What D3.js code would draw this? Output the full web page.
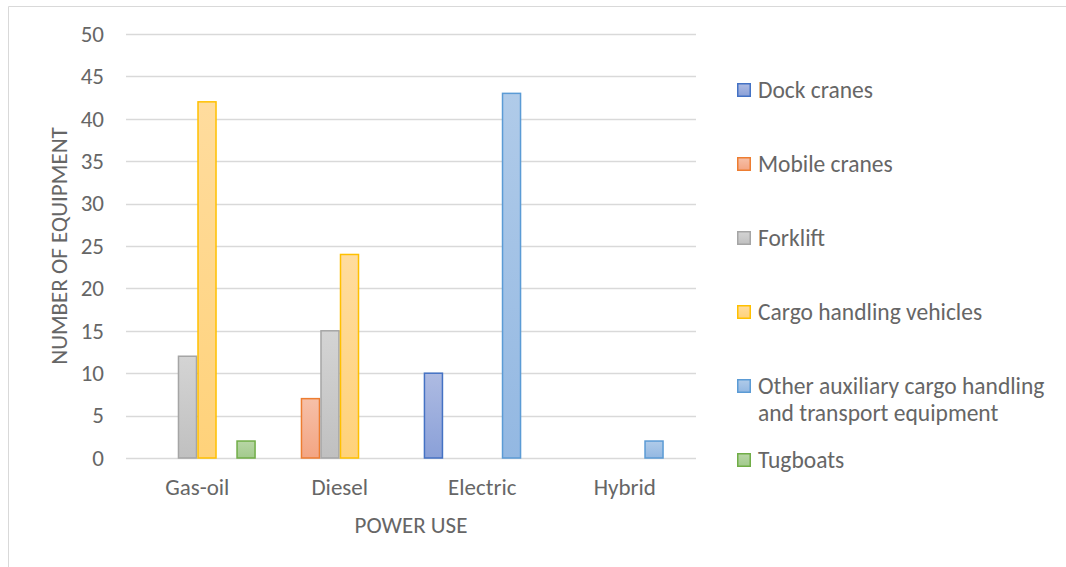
<!DOCTYPE html>
<html>
<head>
<meta charset="utf-8">
<script src="https://cdn.jsdelivr.net/npm/d3@7/dist/d3.min.js"></script>
<style>
  html, body { margin: 0; padding: 0; background: #fff; }
  svg { display: block; }
  text { font-family: Carlito, Calibri, Lato, "Open Sans", sans-serif; fill: #666666; }
</style>
</head>
<body>
<svg id="chart" width="1066" height="567"></svg>
<script>
// Power use categories and equipment series
const categories = ["Gas-oil", "Diesel", "Electric", "Hybrid"];
const seriesNames = [
  "Dock cranes",
  "Mobile cranes",
  "Forklift",
  "Cargo handling vehicles",
  "Other auxiliary cargo handling and transport equipment",
  "Tugboats"
];
// values per series, one per category (Gas-oil, Diesel, Electric, Hybrid)
const dockCranes    = [0, 0, 10, 0];
const mobileCranes  = [0, 7, 0, 0];
const forklift      = [12, 15, 0, 0];
const cargoVehicles = [42, 24, 0, 0];
const otherAux      = [0, 0, 43, 2];
const tugboats      = [2, 0, 0, 0];
const seriesValues = [dockCranes, mobileCranes, forklift, cargoVehicles, otherAux, tugboats];
const yTicks = [0, 5, 10, 15, 20, 25, 30, 35, 40, 45, 50];

// colours: stroke, gradient top, gradient bottom
const strokes = ["#4472c4", "#ed7d31", "#a5a5a5", "#ffc000", "#5b9bd5", "#70ad47"];
const fillTop = ["#aebbe2", "#f6c0a8", "#d4d4d4", "#ffdc9e", "#b0cbe9", "#b8d6a6"];
const fillBot = ["#8aa0d8", "#f3a583", "#c0c0c0", "#ffd27a", "#93b8e2", "#a2ca8c"];

const svg = d3.select("#chart");
const defs = svg.append("defs");
fillTop.forEach((c, i) => {
  const g = defs.append("linearGradient").attr("id", "grad" + i)
    .attr("x1", 0).attr("y1", 0).attr("x2", 0).attr("y2", 1);
  g.append("stop").attr("offset", "0%").attr("stop-color", c);
  g.append("stop").attr("offset", "100%").attr("stop-color", fillBot[i]);
});

// chart frame
svg.append("path")
  .attr("d", "M8.5,567 V6.5 H1066")
  .attr("fill", "none").attr("stroke", "#d9d9d9").attr("stroke-width", 1);

const plot = { left: 126, right: 696, top: 34, bottom: 458 };

const x = d3.scaleBand().domain(categories).range([plot.left, plot.right]).padding(0);
// bars within a category: 6 slots with outer gaps
const xs = d3.scaleBand().domain(d3.range(seriesNames.length))
  .range([0, x.bandwidth()]).paddingInner(0).paddingOuter(0.65);
const y = d3.scaleLinear().domain([0, 50]).range([plot.bottom, plot.top]);

const FS = 23;

// gridlines
svg.append("g").selectAll("line").data(yTicks).join("line")
  .attr("x1", plot.left).attr("x2", plot.right)
  .attr("y1", d => Math.round(y(d)) + 0.5).attr("y2", d => Math.round(y(d)) + 0.5)
  .attr("stroke", "#d9d9d9").attr("stroke-width", 1.3);

// y tick labels
const yAxis = d3.axisLeft(y).tickValues(yTicks).tickSize(0).tickPadding(0);
const gy = svg.append("g").attr("transform", `translate(${plot.left - 22},0)`).call(yAxis);
gy.select(".domain").remove();
gy.attr("font-family", null).attr("font-size", null);
gy.selectAll("text").attr("font-size", FS).attr("fill", "#666666");

// x tick labels
const xAxis = d3.axisBottom(x).tickSize(0).tickPadding(0);
const gx = svg.append("g").attr("transform", `translate(0,${plot.bottom + 21})`).call(xAxis);
gx.select(".domain").remove();
gx.attr("font-family", null).attr("font-size", null);
gx.selectAll("text").attr("font-size", FS).attr("fill", "#666666");

// bars
const groups = svg.append("g").selectAll("g").data(seriesValues).join("g");
groups.selectAll("rect")
  .data((vals, si) => vals.map((v, ci) => ({ v, ci, si })).filter(d => d.v > 0))
  .join("rect")
  .attr("x", d => x(categories[d.ci]) + xs(d.si) + 0.75)
  .attr("width", xs.bandwidth() - 1.5)
  .attr("y", d => y(d.v))
  .attr("height", d => y(0) - y(d.v))
  .attr("fill", d => `url(#grad${d.si})`)
  .attr("stroke", d => strokes[d.si])
  .attr("stroke-width", 1.5);

// axis titles
svg.append("text")
  .attr("x", (plot.left + plot.right) / 2).attr("y", 533)
  .attr("text-anchor", "middle").attr("font-size", FS)
  .text("POWER USE");
svg.append("text")
  .attr("transform", `translate(67,${(plot.top + plot.bottom) / 2}) rotate(-90)`)
  .attr("text-anchor", "middle").attr("font-size", FS)
  .text("NUMBER OF EQUIPMENT");

// legend
const legendRows = [
  ["Dock cranes"],
  ["Mobile cranes"],
  ["Forklift"],
  ["Cargo handling vehicles"],
  ["Other auxiliary cargo handling", "and transport equipment"],
  ["Tugboats"]
];
const legendY = [90, 164, 238, 312, 386, 460];
const leg = svg.append("g").selectAll("g").data(legendRows).join("g")
  .attr("transform", (d, i) => `translate(737,${legendY[i]})`);
leg.append("rect")
  .attr("x", 0.75).attr("y", -6.25).attr("width", 12.5).attr("height", 12.5)
  .attr("fill", (d, i) => `url(#grad${i})`)
  .attr("stroke", (d, i) => strokes[i]).attr("stroke-width", 1.5);
leg.append("text")
  .attr("x", 21).attr("y", 8).attr("font-size", 23.5)
  .selectAll("tspan").data(d => d).join("tspan")
  .attr("x", 21).attr("dy", (d, i) => i === 0 ? 0 : 27)
  .text(d => d);
</script>
</body>
</html>
